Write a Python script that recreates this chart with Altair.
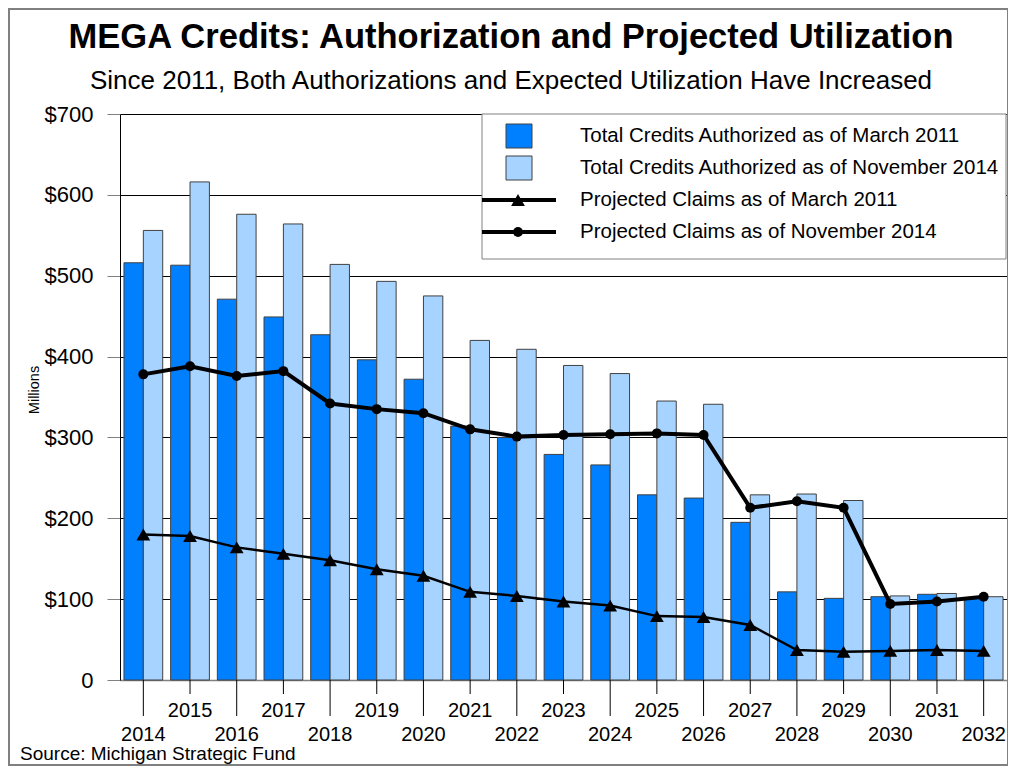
import altair as alt
import pandas as pd

years = [2014, 2015, 2016, 2017, 2018, 2019, 2020, 2021, 2022, 2023,
         2024, 2025, 2026, 2027, 2028, 2029, 2030, 2031, 2032]
auth_mar2011 = [516, 513, 471, 449, 427, 396, 372, 314, 300, 279,
                266, 229, 225, 195, 109, 101, 103, 106, 102]
auth_nov2014 = [556, 616, 576, 564, 514, 493, 475, 420, 409, 389,
                379, 345, 341, 229, 230, 222, 104, 107, 103]
claims_mar2011 = [180, 178, 164, 156, 148, 137, 129, 109, 104, 97,
                  92, 79, 78, 68, 37, 35, 36, 37, 36]
claims_nov2014 = [378, 388, 376, 382, 342, 335, 330, 310, 301, 303,
                  304, 305, 303, 213, 221, 213, 94, 97, 103]

series_names = ["Total Credits Authorized as of March 2011",
                "Total Credits Authorized as of November 2014",
                "Projected Claims as of March 2011",
                "Projected Claims as of November 2014"]
bar_colors = ["#0080FF", "#A6D3FF"]

title_text = "MEGA Credits: Authorization and Projected Utilization"
subtitle_text = "Since 2011, Both Authorizations and Expected Utilization Have Increased"
source_text = "Source: Michigan Strategic Fund"
y_title = "Millions"

FONT = "Liberation Sans"
W, H = 887, 566

bars_df = pd.DataFrame({
    "year": years * 2,
    "series": [series_names[0]] * len(years) + [series_names[1]] * len(years),
    "value": auth_mar2011 + auth_nov2014,
})
mar_df = pd.DataFrame({"year": years, "value": claims_mar2011})
nov_df = pd.DataFrame({"year": years, "value": claims_nov2014})
years_df = pd.DataFrame({"year": years, "label": [str(y) for y in years]})

xscale = alt.Scale(paddingInner=0.17, paddingOuter=0.085)
yscale = alt.Scale(domain=[0, 700], nice=False)

x_enc = alt.X("year:O", scale=xscale,
              axis=alt.Axis(labels=False, ticks=False, title=None,
                            domainColor="#808080", domainWidth=1.5, grid=False))
y_enc = alt.Y("value:Q", scale=yscale,
              axis=alt.Axis(values=[0, 100, 200, 300, 400, 500, 600, 700],
                            labelExpr="datum.value == 0 ? '0' : '$' + datum.value",
                            title=None, grid=True, gridColor="#000000", gridWidth=1,
                            tickSize=13, tickColor="#808080", labelPadding=14,
                            labelFont=FONT, labelFontSize=22, labelColor="#000000",
                            domainColor="#000000"))

bars = alt.Chart(bars_df).mark_bar(stroke="#404040", strokeWidth=1).encode(
    x=x_enc,
    xOffset=alt.XOffset("series:N", sort=series_names[:2], scale=alt.Scale(paddingInner=0)),
    y=y_enc,
    color=alt.Color("series:N", scale=alt.Scale(domain=series_names[:2], range=bar_colors),
                    legend=None),
)

line_mar = alt.Chart(mar_df).mark_line(color="#000000", strokeWidth=2.5).encode(
    x="year:O", y="value:Q")
pts_mar = alt.Chart(mar_df).mark_point(shape="triangle-up", filled=True, color="#000000",
                                       size=190, opacity=1).encode(x="year:O", y="value:Q")
line_nov = alt.Chart(nov_df).mark_line(color="#000000", strokeWidth=4).encode(
    x="year:O", y="value:Q")
pts_nov = alt.Chart(nov_df).mark_point(shape="circle", filled=True, color="#000000",
                                       size=100, opacity=1).encode(x="year:O", y="value:Q")

one = pd.DataFrame({"a": [0]})

# outer frame
frame = alt.Chart(one).mark_rect(fillOpacity=0, stroke="#808080", strokeWidth=2).encode(
    x=alt.value(-111), x2=alt.value(W + 1), y=alt.value(-105), y2=alt.value(651))

# legend
leg_box = alt.Chart(one).mark_rect(fill="#FFFFFF", stroke="#808080", strokeWidth=1).encode(
    x=alt.value(362), x2=alt.value(W - 1), y=alt.value(0), y2=alt.value(145))
row_y = [22, 54, 86, 118]
leg_layers = [leg_box]
for i, c in enumerate(bar_colors):
    leg_layers.append(alt.Chart(one).mark_rect(fill=c, stroke="#404040", strokeWidth=1).encode(
        x=alt.value(386), x2=alt.value(412), y=alt.value(row_y[i] - 12), y2=alt.value(row_y[i] + 12)))
for i in (2, 3):
    leg_layers.append(alt.Chart(one).mark_rule(color="#000000", strokeWidth=4).encode(
        x=alt.value(362), x2=alt.value(436), y=alt.value(row_y[i])))
leg_layers.append(alt.Chart(one).mark_point(shape="triangle-up", filled=True, color="#000000",
                                            size=190, opacity=1).encode(
    x=alt.value(398), y=alt.value(row_y[2])))
leg_layers.append(alt.Chart(one).mark_point(shape="circle", filled=True, color="#000000",
                                            size=100, opacity=1).encode(
    x=alt.value(398), y=alt.value(row_y[3])))
for i, name in enumerate(series_names):
    leg_layers.append(alt.Chart(pd.DataFrame({"t": [name]})).mark_text(
        font=FONT, fontSize=20.5, align="left", baseline="middle", color="#000000").encode(
        x=alt.value(460), y=alt.value(row_y[i]), text="t:N"))

# x ticks and labels (two staggered rows)
tick_even = alt.Chart(years_df).transform_filter("datum.year % 2 == 0").mark_rule(
    color="#000000", strokeWidth=1).encode(x="year:O", y=alt.value(H), y2=alt.value(H + 36))
tick_odd = alt.Chart(years_df).transform_filter("datum.year % 2 == 1").mark_rule(
    color="#000000", strokeWidth=1).encode(x="year:O", y=alt.value(H), y2=alt.value(H + 14))
lab_odd = alt.Chart(years_df).transform_filter("datum.year % 2 == 1").mark_text(
    font=FONT, fontSize=20, baseline="middle", align="center", color="#000000").encode(
    x="year:O", y=alt.value(H + 31), text="label:N")
lab_even = alt.Chart(years_df).transform_filter("datum.year % 2 == 0").mark_text(
    font=FONT, fontSize=20, baseline="middle", align="center", color="#000000").encode(
    x="year:O", y=alt.value(H + 55), text="label:N")

# titles and notes
title = alt.Chart(pd.DataFrame({"t": [title_text]})).mark_text(
    font=FONT, fontSize=34.5, fontWeight="bold", align="center", baseline="alphabetic",
    color="#000000").encode(x=alt.value(391), y=alt.value(-66), text="t:N")
subtitle = alt.Chart(pd.DataFrame({"t": [subtitle_text]})).mark_text(
    font=FONT, fontSize=26, align="center", baseline="alphabetic",
    color="#000000").encode(x=alt.value(391), y=alt.value(-25), text="t:N")
ytitle = alt.Chart(pd.DataFrame({"t": [y_title]})).mark_text(
    font=FONT, fontSize=14.5, align="center", baseline="middle", angle=270,
    color="#000000").encode(x=alt.value(-85), y=alt.value(276), text="t:N")
source = alt.Chart(pd.DataFrame({"t": [source_text]})).mark_text(
    font=FONT, fontSize=19, align="left", baseline="middle",
    color="#000000").encode(x=alt.value(-100), y=alt.value(640), text="t:N")

chart = alt.layer(
    frame, bars, line_mar, line_nov, pts_mar, pts_nov, *leg_layers,
    tick_even, tick_odd, lab_odd, lab_even, title, subtitle, ytitle, source,
).properties(
    width=W, height=H,
    autosize=alt.AutoSizeParams(type="none"),
    padding={"left": 112, "top": 106, "right": 1, "bottom": 86},
).configure_view(stroke="transparent").configure(background="#FFFFFF")

chart.save("out.html", embed_options={"renderer": "svg", "actions": False})
